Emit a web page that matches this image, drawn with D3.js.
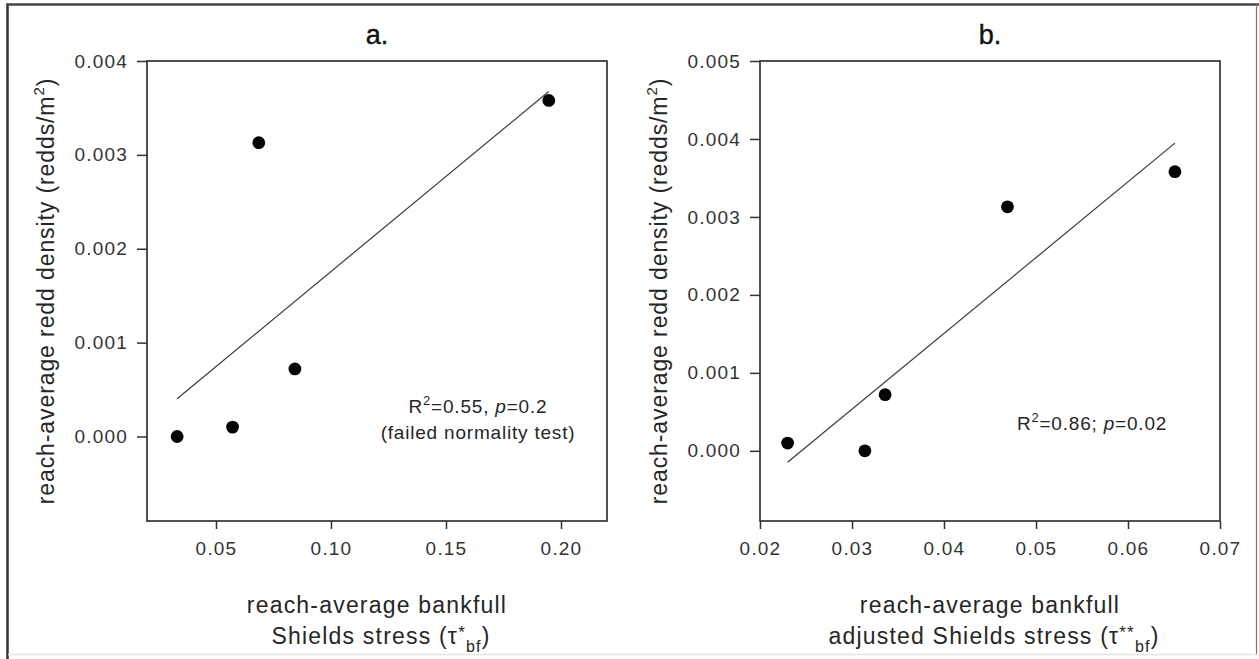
<!DOCTYPE html>
<html>
<head>
<meta charset="utf-8">
<script src="https://cdn.jsdelivr.net/npm/d3@7"></script>
<style>
  html, body { margin: 0; padding: 0; background: #fff; }
  svg { display: block; font-family: "Liberation Sans", Arial, sans-serif; }
</style>
</head>
<body>
<svg id="fig" width="1259" height="659"></svg>
<script>
// Reach-average redd density (redds/m^2) for the five study reaches
const reddDensity = [0, 0.0001, 0.00313, 0.00072, 0.00358];
// Reach-average bankfull Shields stress (tau*_bf)
const shieldsStress = [0.0331, 0.0572, 0.0686, 0.0843, 0.1947];
// Reach-average bankfull adjusted Shields stress (tau**_bf)
const adjShieldsStress = [0.0314, 0.0230, 0.0469, 0.0336, 0.0651];

// Axis extents and tick values
const xDomainA = [0.02, 0.22];
const yDomainA = [-0.0009, 0.004];
const xTicksA = [0.05, 0.10, 0.15, 0.20];
const yTicksA = [0, 0.001, 0.002, 0.003, 0.004];

const xDomainB = [0.02, 0.07];
const yDomainB = [-0.0009, 0.005];
const xTicksB = [0.02, 0.03, 0.04, 0.05, 0.06, 0.07];
const yTicksB = [0, 0.001, 0.002, 0.003, 0.004, 0.005];

const panelTitles = ["a.", "b."];
const statsA = ["R", "2", "=0.55, ", "p", "=0.2"];
const statsA2 = "(failed normality test)";
const statsB = ["R", "2", "=0.86; ", "p", "=0.02"];

const ink = "#262626";
const svg = d3.select("#fig");

// Outer frame
svg.append("line").attr("x1", 7.5).attr("x2", 7.5).attr("y1", 4).attr("y2", 659)
  .attr("stroke", "#333").attr("stroke-width", 2.5);
svg.append("line").attr("x1", 6).attr("x2", 1259).attr("y1", 4.5).attr("y2", 4.5)
  .attr("stroke", "#444").attr("stroke-width", 2.5);
svg.append("line").attr("x1", 1256.5).attr("x2", 1256.5).attr("y1", 4).attr("y2", 654)
  .attr("stroke", "#777").attr("stroke-width", 1.2);
svg.append("line").attr("x1", 8).attr("x2", 1257).attr("y1", 654.5).attr("y2", 654.5)
  .attr("stroke", "#e4e4e4").attr("stroke-width", 1.5);

// Least-squares fit y = a + b x
function linearFit(xs, ys) {
  const mx = d3.mean(xs), my = d3.mean(ys);
  let sxy = 0, sxx = 0;
  xs.forEach((x, i) => { sxy += (x - mx) * (ys[i] - my); sxx += (x - mx) * (x - mx); });
  const slope = sxy / sxx;
  return { slope, intercept: my - slope * mx };
}

function drawPanel(opt) {
  const { left, right, top, bottom } = opt;
  const g = svg.append("g");
  const x = d3.scaleLinear().domain(opt.xDomain).range([left, right]);
  const y = d3.scaleLinear().domain(opt.yDomain).range([bottom, top]);

  // Plot frame
  g.append("rect")
    .attr("x", left).attr("y", top)
    .attr("width", right - left).attr("height", bottom - top)
    .attr("fill", "none").attr("stroke", "#333").attr("stroke-width", 1.7);

  // Axes
  const yAxis = d3.axisLeft(y).tickValues(opt.yTicks).tickFormat(d3.format(".3f"))
    .tickSize(10).tickSizeOuter(0).tickPadding(9);
  const xAxis = d3.axisBottom(x).tickValues(opt.xTicks).tickFormat(d3.format(".2f"))
    .tickSize(8).tickSizeOuter(0).tickPadding(13);

  const ya = g.append("g").attr("transform", `translate(${left},0)`).call(yAxis);
  const xa = g.append("g").attr("transform", `translate(0,${bottom})`).call(xAxis);
  [ya, xa].forEach(a => {
    a.select(".domain").remove();
    a.selectAll(".tick line").attr("stroke", "#333").attr("stroke-width", 1.5);
    a.selectAll(".tick text")
      .attr("fill", "#333")
      .style("font-size", "19px")
      .style("letter-spacing", "1.2px");
  });

  // Regression line across the observed range
  const fit = linearFit(opt.xs, opt.ys);
  const xr = d3.extent(opt.xs);
  g.append("path")
    .datum(xr.map(v => [v, fit.intercept + fit.slope * v]))
    .attr("d", d3.line().x(d => x(d[0])).y(d => y(d[1])))
    .attr("fill", "none").attr("stroke", "#3a3a3a").attr("stroke-width", 1.2);

  // Observations
  g.selectAll("circle.obs")
    .data(opt.xs.map((v, i) => [v, opt.ys[i]]))
    .join("circle")
    .attr("class", "obs")
    .attr("cx", d => x(d[0])).attr("cy", d => y(d[1]))
    .attr("r", 6.4).attr("fill", "#050505");

  const cx = (left + right) / 2;

  // Panel title
  g.append("text").attr("x", cx).attr("y", 44)
    .attr("text-anchor", "middle").attr("fill", "#111")
    .attr("stroke", "#111").attr("stroke-width", 0.4)
    .style("font-size", "27px").text(opt.title);

  // y-axis title
  const yt = g.append("text")
    .attr("transform", `translate(${left - 93},${(top + bottom) / 2}) rotate(-90)`)
    .attr("text-anchor", "middle").attr("fill", ink)
    .style("font-size", "23px").style("letter-spacing", "0.9px");
  yt.append("tspan").text("reach-average redd density (redds/m");
  yt.append("tspan").attr("dy", -10).style("font-size", "15px").text("2");
  yt.append("tspan").attr("dy", 10).text(")");

  // x-axis title, two lines
  g.append("text").attr("x", cx).attr("y", 613)
    .attr("text-anchor", "middle").attr("fill", ink)
    .style("font-size", "23px").style("letter-spacing", "1.2px")
    .text("reach-average bankfull");
  const xt2 = g.append("text").attr("x", cx + 4).attr("y", 644)
    .attr("text-anchor", "middle").attr("fill", ink)
    .style("font-size", "23px").style("letter-spacing", "1.2px");
  xt2.append("tspan").text(opt.xLabelLead + " (\u03c4");
  xt2.append("tspan").attr("dy", -6).style("font-size", "17px").text(opt.stars);
  xt2.append("tspan").attr("dy", 14).style("font-size", "16px").text("bf");
  xt2.append("tspan").attr("dy", -8).text(")");

  // Fit statistics
  const st = g.append("text").attr("x", opt.statX).attr("y", opt.statY)
    .attr("text-anchor", "middle").attr("fill", ink)
    .style("font-size", "19px").style("letter-spacing", "0.8px");
  st.append("tspan").text(opt.stats[0]);
  st.append("tspan").attr("dy", -8).style("font-size", "13px").text(opt.stats[1]);
  st.append("tspan").attr("dy", 8).text(opt.stats[2]);
  st.append("tspan").style("font-style", "italic").text(opt.stats[3]);
  st.append("tspan").text(opt.stats[4]);
  if (opt.stats2) {
    g.append("text").attr("x", opt.statX).attr("y", opt.statY + 26)
      .attr("text-anchor", "middle").attr("fill", ink)
      .style("font-size", "19px").style("letter-spacing", "0.8px")
      .text(opt.stats2);
  }
}

drawPanel({
  left: 147, right: 607, top: 61, bottom: 521,
  xDomain: xDomainA, yDomain: yDomainA, xTicks: xTicksA, yTicks: yTicksA,
  xs: shieldsStress, ys: reddDensity,
  title: panelTitles[0], xLabelLead: "Shields stress", stars: "*",
  stats: statsA, stats2: statsA2, statX: 478, statY: 413
});

drawPanel({
  left: 760, right: 1220, top: 61, bottom: 521,
  xDomain: xDomainB, yDomain: yDomainB, xTicks: xTicksB, yTicks: yTicksB,
  xs: adjShieldsStress, ys: reddDensity,
  title: panelTitles[1], xLabelLead: "adjusted Shields stress", stars: "**",
  stats: statsB, stats2: null, statX: 1092, statY: 430
});
</script>
</body>
</html>
